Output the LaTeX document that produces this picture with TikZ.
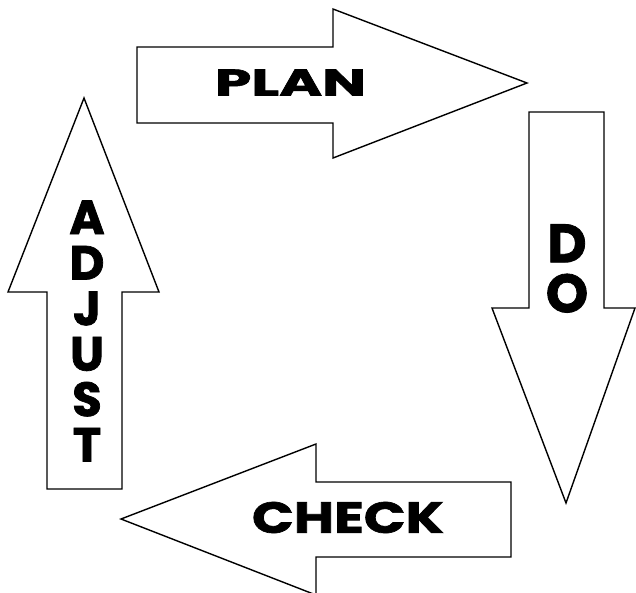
\documentclass[tikz,border=0pt]{standalone}
\usepackage{fontspec}
\usepackage{graphicx}
\newfontfamily\lblfont{Poppins}[BoldFeatures={FakeBold=1.5}]
\usepackage{tikz}
\usetikzlibrary{positioning}

% stretched horizontal label: width, cap height, text
\newcommand{\widelbl}[3]{\resizebox{#1}{#2}{\lblfont\bfseries #3}}

\begin{document}
\begin{tikzpicture}[
	x=1pt, y=-1pt,
	blockarrow/.style={draw=black, fill=white, line width=1.4pt, line join=miter},
	lbl/.style={text=black, inner sep=0pt, align=center},
	vlbl/.style={lbl, font=\lblfont\bfseries\fontsize{54}{50}\selectfont}
	]
	\useasboundingbox (0,0) rectangle (636,592);
	
	% PLAN arrow (right)
	\draw[blockarrow] (137,47) -- (333,47) -- (333,9) -- (527,83) -- (333,158) -- (333,123) -- (137,123) -- cycle;
	\node[lbl] (plan) at (290.5,82.5) {\widelbl{151pt}{26pt}{PLAN}};
	
	% DO arrow (down)
	\draw[blockarrow] (529,112) -- (604,112) -- (604,308) -- (635,308) -- (566,503) -- (492,308) -- (529,308) -- cycle;
	\node[vlbl] (do) at (567,268.5) {D\\O};
	
	% CHECK arrow (left)
	\draw[blockarrow] (511,482) -- (511,557) -- (316,557) -- (316,595) -- (121,519) -- (316,444) -- (316,482) -- cycle;
	\node[lbl] (check) at (348,517.5) {\widelbl{192pt}{31pt}{CHECK}};
	
	% ADJUST arrow (up)
	\draw[blockarrow] (47,489) -- (47,292) -- (8,292) -- (84,98) -- (159,292) -- (122,292) -- (122,489) -- cycle;
	\node[vlbl, font=\lblfont\bfseries\fontsize{48}{45.5}\selectfont] (adjust) at (87,331) {A\\D\\J\\U\\S\\T};
\end{tikzpicture}
\end{document}
